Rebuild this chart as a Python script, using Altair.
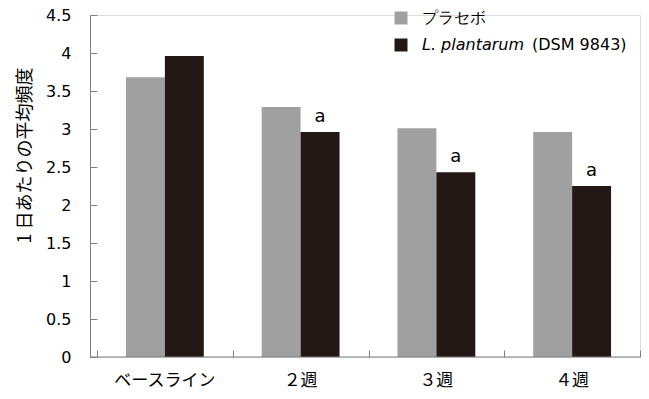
import altair as alt
import pandas as pd

categories = ["ベースライン", "２週", "３週", "４週"]
series = ["プラセボ", "L. plantarum (DSM 9843)"]
placebo = [3.68, 3.29, 3.01, 2.96]
plantarum = [3.96, 2.96, 2.43, 2.25]
sig_labels = ["", "a", "a", "a"]
y_ticks = [0, 0.5, 1, 1.5, 2, 2.5, 3, 3.5, 4, 4.5]
colors = ["#a0a0a0", "#231815"]
y_title = "1 日あたりの平均頻度"
strain_suffix = "(DSM 9843)"

rows = []
for i, c in enumerate(categories):
    rows.append({"cat": c, "group": series[0], "value": placebo[i], "sig": ""})
    rows.append({"cat": c, "group": series[1], "value": plantarum[i], "sig": sig_labels[i]})
df = pd.DataFrame(rows)

W, H = 550, 342
AXIS_GRAY = "#808080"

xscale = alt.Scale(domain=categories, range=[7, W], paddingInner=0, paddingOuter=0)
xoff_scale = alt.Scale(domain=series, paddingInner=0, paddingOuter=0.744)
yscale = alt.Scale(domain=[0, 4.5], nice=False, zero=True)

legend = alt.Legend(
    title=None, orient="none", legendX=303, legendY=-5,
    symbolType="square", symbolSize=169, symbolStrokeWidth=0, symbolOpacity=1,
    labelFont="DejaVu Sans", labelFontSize=16, labelColor="black",
    labelOffset=13, rowPadding=11, padding=0, labelLimit=400,
    labelExpr="datum.value == 'L. plantarum (DSM 9843)' ? 'L. plantarum' : datum.label",
    labelFontStyle={"expr": "datum.value == 'L. plantarum (DSM 9843)' ? 'italic' : 'normal'"},
)

bars = alt.Chart(df).mark_bar().encode(
    x=alt.X("cat:N", scale=xscale, sort=categories,
            axis=alt.Axis(title=None, domain=False, ticks=False, labelAngle=0,
                          labelFont="Noto Sans CJK JP", labelFontSize=17,
                          labelColor="black", labelPadding=15)),
    xOffset=alt.XOffset("group:N", scale=xoff_scale, sort=series),
    y=alt.Y("value:Q", scale=yscale,
            axis=alt.Axis(title=y_title, values=y_ticks, format=".1~f", ticks=False,
                          domainColor=AXIS_GRAY, grid=False,
                          labelFont="DejaVu Sans", labelFontSize=16, labelColor="black",
                          labelPadding=19,
                          titleFont="Noto Sans CJK JP", titleFontSize=18,
                          titleFontWeight="normal", titleColor="black",
                          titleX=-65, titleY=140, titleAlign="center",
                          titleBaseline="middle")),
    color=alt.Color("group:N", scale=alt.Scale(domain=series, range=colors),
                    sort=series, legend=legend),
)

sig = alt.Chart(df).transform_filter("datum.sig != ''").mark_text(
    font="DejaVu Sans", fontSize=18, baseline="alphabetic", dy=-10, color="black"
).encode(
    x=alt.X("cat:N", scale=xscale, sort=categories,
            axis=alt.Axis(orient="top", offset=-H, labels=False, domain=False,
                          ticks=True, tickBand="extent", tickSize=7,
                          tickColor=AXIS_GRAY, title=None, grid=False)),
    xOffset=alt.XOffset("group:N", scale=xoff_scale, sort=series),
    y=alt.Y("value:Q", scale=yscale,
            axis=alt.Axis(orient="right", offset=-W, labels=False, domain=False,
                          ticks=True, tickSize=7, values=y_ticks,
                          tickColor=AXIS_GRAY, title=None, grid=False)),
    text="sig:N",
)

baseline = alt.Chart(pd.DataFrame({"k": [0]})).mark_rule(
    color=AXIS_GRAY, strokeWidth=1
).encode(x=alt.value(0), x2=alt.value(W), y=alt.value(H))

suffix = alt.Chart(pd.DataFrame({"t": [strain_suffix]})).mark_text(
    align="left", baseline="middle", font="DejaVu Sans", fontSize=16, color="black"
).encode(x=alt.value(442), y=alt.value(30), text="t:N")

chart = alt.layer(bars, sig, baseline, suffix).resolve_axis(
    x="independent", y="independent"
).properties(
    width=W, height=H, autosize="none",
    padding={"left": 90, "top": 15, "right": 9, "bottom": 42},
).configure_view(stroke=None).configure(background="white")

chart.save("out.html", embed_options={"renderer": "svg", "actions": False})
